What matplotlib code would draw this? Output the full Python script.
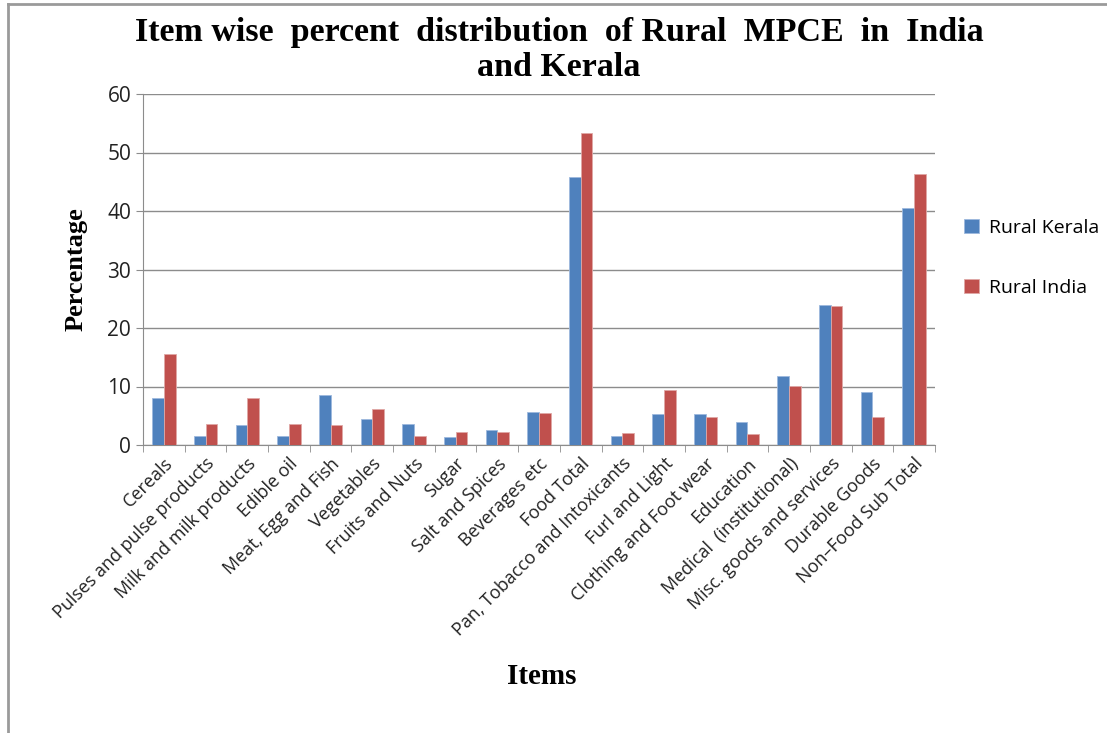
import numpy as np
import matplotlib.pyplot as plt
from matplotlib.lines import Line2D

items = ['Cereals', 'Pulses and pulse products', 'Milk and milk products', 'Edible oil',
         'Meat, Egg and Fish', 'Vegetables', 'Fruits and Nuts', 'Sugar', 'Salt and Spices',
         'Beverages etc', 'Food Total', 'Pan, Tobacco and Intoxicants', 'Furl and Light',
         'Clothing and Foot wear', 'Education', 'Medical  (institutional)',
         'Misc. goods and services', 'Durable Goods', 'Non\u2013Food Sub Total']
rural_kerala = [8.0, 1.54, 3.49, 1.54, 8.51, 4.4, 3.66, 1.37, 2.63, 5.6, 45.75,
                1.54, 5.24, 5.24, 3.87, 11.85, 23.99, 9.0, 40.46]
rural_india = [15.54, 3.66, 8.0, 3.66, 3.49, 6.17, 1.54, 2.23, 2.23, 5.4, 53.4,
               2.05, 9.35, 4.73, 1.88, 10.09, 23.82, 4.73, 46.27]

fig = plt.figure(figsize=(11.07, 7.33), dpi=100)
ax = fig.add_axes([143 / 1107, 1 - 445 / 733, (935 - 143) / 1107, (445 - 94) / 733])

x = np.arange(len(items))
w = 0.28
ax.bar(x - w / 2, rural_kerala, w, color='#4F81BD', edgecolor='#9DB9DE', linewidth=0.6,
       label='Rural Kerala', zorder=3)
ax.bar(x + w / 2, rural_india, w, color='#C0504D', edgecolor='#E0A8A6', linewidth=0.6,
       label='Rural India', zorder=3)

ax.set_xlim(-0.5, len(items) - 0.5)
ax.set_ylim(0, 60)
ax.set_yticks(range(0, 61, 10))
ax.yaxis.grid(True, color='#8C8C8C', linewidth=1, zorder=0)
for s in ['top', 'right']:
    ax.spines[s].set_visible(False)
for s in ['left', 'bottom']:
    ax.spines[s].set_color('#8C8C8C')

ax.set_xticks(x)
ax.set_xticklabels(items, rotation=45, ha='right', rotation_mode='anchor',
                   fontsize=13, family='Open Sans', color='#222222')
ax.tick_params(axis='x', length=0, pad=7)
ax.set_xticks(np.arange(-0.5, len(items), 1), minor=True)
ax.tick_params(axis='x', which='minor', length=5, color='#8C8C8C', direction='out')
ax.tick_params(axis='y', length=5, color='#8C8C8C', labelsize=15, labelcolor='#222222')
for t in ax.get_yticklabels():
    t.set_family('Open Sans')

ax.set_ylabel('Percentage', family='Liberation Serif', fontweight='bold', fontsize=19,
              labelpad=14)
fig.text(542 / 1107, 1 - 677 / 733, 'Items', family='Liberation Serif', fontweight='bold',
         fontsize=21, ha='center', va='center')
fig.text(0.505, 1 - 50 / 733, 'Item wise  percent  distribution  of Rural  MPCE  in  India\nand Kerala',
         family='Liberation Serif', fontweight='bold', fontsize=24.5, ha='center', va='center',
         linespacing=1.2)

ax.legend(loc='center left', bbox_to_anchor=(1.015, 0.533), frameon=False,
          prop={'family': 'Open Sans', 'size': 14}, labelspacing=2.15,
          handlelength=0.75, handleheight=0.75, handletextpad=0.5)

fig.add_artist(Line2D([8 / 1107, 8 / 1107], [0, 1 - 4 / 733], color='#9A9A9A', linewidth=2,
                      transform=fig.transFigure))
fig.add_artist(Line2D([8 / 1107, 1], [1 - 4 / 733, 1 - 4 / 733], color='#9A9A9A', linewidth=2,
                      transform=fig.transFigure))

fig.savefig('out.png', dpi=100)
